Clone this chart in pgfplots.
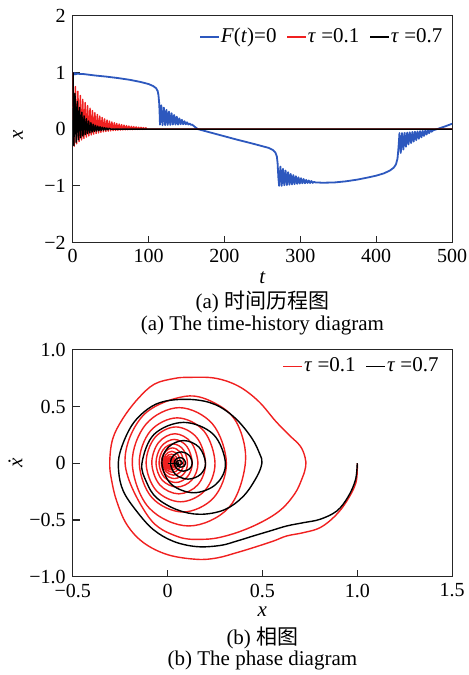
\documentclass[border=0pt]{standalone}
\usepackage{fontspec}
\setmainfont{Liberation Serif}
\newfontfamily\cjk{Noto Sans CJK SC}
\usepackage{pgfplots}
\pgfplotsset{compat=1.18}
\definecolor{cblue}{RGB}{45,88,190}
\definecolor{cred}{RGB}{240,32,32}
\begin{document}
\begin{tikzpicture}
\pgfplotsset{
  every axis/.append style={
    scale only axis, width=189.65pt, height=113.4pt, anchor=south west,
    axis line style={line width=0.6pt, black!85},
    tick align=inside, tick pos=left, major tick length=3.5pt,
    every tick/.style={line width=0.6pt, black!85},
    ticklabel style={font=\fontsize{10}{12}\selectfont},
    legend style={draw=none, fill=none, inner sep=0pt, font=\fontsize{10.5}{12}\selectfont,
      nodes={inner xsep=0.5pt, inner ysep=1pt},
      legend columns=-1, /tikz/every even column/.append style={column sep=4.5pt}},
    legend image code/.code={\draw[#1] (0pt,0pt) -- (9.5pt,0pt);},
    every axis plot/.append style={line join=round},
  }
}
\path[use as bounding box] (-36.35pt,-49.15pt) rectangle (197.65pt,288.25pt);
% ---------------- top: time history ----------------
\begin{axis}[at={(0pt,167pt)}, xmin=0, xmax=500, ymin=-2, ymax=2,
  xtick={0,100,200,300,400,500}, xticklabels={0,100,200,300,400,500},
  ytick={-2,-1,0,1,2}, yticklabels={−2,−1,0,1,2},
  legend style={at={(0.978,0.955)}, anchor=north east}]
\addplot[cblue, line width=0.9pt] coordinates {
(0,1.0)(1,0.96)(2,0.99)(3,0.965)(4,0.985)(5,0.97)(6,0.98)(8,0.975)(15,0.97)(30,0.945)(45,0.925)(60,0.9)(75,0.87)(90,0.83)(100,0.795)(106,0.76)(110,0.72)(112,0.67)(113,0.6)(114,0.45)(114.6,0.25)(115,0.08)
(116.7,0.42)(118.4,0.07)(120.1,0.38)(121.8,0.07)(123.5,0.34)(125.2,0.075)(126.9,0.31)(128.6,0.075)(130.3,0.28)(132,0.08)(133.7,0.25)(135.4,0.08)(137.1,0.22)(138.8,0.08)(140.5,0.19)(142.2,0.085)(143.9,0.165)(145.6,0.085)(147.3,0.14)(149,0.085)(150.7,0.12)(152.4,0.08)(154.1,0.1)(155.8,0.075)(157.5,0.08)(160,0.05)(165,0.0)
(190,-0.09)(215,-0.18)(240,-0.265)(258,-0.33)(264,-0.37)(267,-0.41)(269,-0.48)(270,-0.6)(271,-0.85)(272,-1.0)
(273.7,-0.66)(275.4,-1.0)(277.1,-0.70)(278.8,-0.99)(280.5,-0.73)(282.2,-0.985)(283.9,-0.76)(285.6,-0.98)(287.3,-0.79)(289,-0.975)(290.7,-0.81)(292.4,-0.97)(294.1,-0.83)(295.8,-0.965)(297.5,-0.85)(299.2,-0.96)(300.9,-0.865)(302.6,-0.955)(304.3,-0.88)(306,-0.955)(307.7,-0.895)(309.4,-0.95)(311.1,-0.905)(312.8,-0.95)(314.5,-0.915)(316.2,-0.948)(318,-0.93)(320,-0.94)
(330,-0.945)(345,-0.94)(360,-0.92)(375,-0.89)(390,-0.85)(400,-0.82)(410,-0.78)(418,-0.73)(423,-0.68)(426,-0.62)(428,-0.52)(429,-0.38)(430,-0.2)(430.6,-0.07)
(432.3,-0.42)(434,-0.07)(435.7,-0.36)(437.4,-0.065)(439.1,-0.31)(440.8,-0.06)(442.5,-0.27)(444.2,-0.055)(445.9,-0.245)(447.6,-0.05)(449.3,-0.22)(451,-0.045)(452.7,-0.195)(454.4,-0.04)(456.1,-0.17)(457.8,-0.035)(459.5,-0.145)(461.2,-0.03)(462.9,-0.12)(464.6,-0.025)(466.3,-0.095)(468,-0.02)(469.7,-0.07)(471.4,-0.015)(473.1,-0.045)(475,-0.02)(480,0.0)(490,0.045)(500,0.095)
};
\addlegendentry{\textit{F}(\textit{t})=0}
\addplot[cred, line width=0.7pt] coordinates {
(0,1.0)(2.0,-0.30)(3.6,0.75)(5.2,-0.258)(6.8,0.667)(8.4,-0.221)(10.0,0.593)(11.6,-0.19)(13.2,0.526)(14.8,-0.163)(16.4,0.468)(18.0,-0.14)(19.6,0.415)(21.2,-0.12)(22.8,0.369)(24.4,-0.103)(26.0,0.328)(27.6,-0.089)(29.2,0.291)(30.8,-0.076)(32.4,0.258)(34.0,-0.065)(35.6,0.23)(37.2,-0.056)(38.8,0.204)(40.4,-0.048)(42.0,0.181)(43.6,-0.041)(45.2,0.161)(46.8,-0.036)(48.4,0.143)(50.0,-0.031)(51.6,0.127)(53.2,-0.026)(54.8,0.113)(56.4,-0.022)(58.0,0.1)(59.6,-0.019)(61.2,0.089)(62.8,-0.017)(64.4,0.079)(66.0,-0.014)(67.6,0.07)(69.2,-0.012)(70.8,0.062)(72.4,-0.011)(74.0,0.055)(75.6,-0.009)(77.2,0.049)(78.8,-0.008)(80.4,0.044)(82.0,-0.007)(83.6,0.039)(85.2,-0.006)(86.8,0.034)(88.4,-0.005)(90,0.031)(91.6,-0.004)(93.2,0.027)(94.8,-0.003)(96.4,0.023)(98,0.0)(500,0.0)
};
\addlegendentry{\textit{τ} =0.1}
\addplot[black, line width=0.7pt] coordinates {
(0,1.0)(0.5,0.99)(1.5,-0.288)(3,0.626)(4.5,-0.232)(6,0.489)(7.5,-0.188)(9,0.382)(10.5,-0.152)(12,0.299)(13.5,-0.123)(15,0.234)(16.5,-0.099)(18,0.183)(19.5,-0.080)(21,0.143)(22.5,-0.065)(24,0.112)(25.5,-0.052)(27,0.087)(28.5,-0.042)(30,0.068)(31.5,-0.034)(33,0.053)(34.5,-0.028)(36,0.042)(37.5,-0.022)(39,0.033)(40.5,-0.018)(42,0.026)(43.5,-0.014)(45,0.020)(46.5,-0.011)(48,0.016)(50,0.0)(500,0.0)
};
\addlegendentry{\textit{τ} =0.7}
\end{axis}
% ---------------- bottom: phase diagram ----------------
\begin{axis}[at={(0pt,0pt)}, xmin=-0.5, xmax=1.5, ymin=-1, ymax=1,
  xtick={-0.5,0,0.5,1,1.5}, xticklabels={−0.5,0,0.5,1.0,1.5},
  ytick={-1,-0.5,0,0.5,1}, yticklabels={−1.0,−0.5,0,0.5,1.0},
  legend style={at={(0.968,0.975)}, anchor=north east}]
\addplot[cred, line width=0.7pt, smooth, tension=0.6] coordinates {
(1.0,0.0)(0.993,-0.17)(0.945,-0.333)(0.883,-0.465)(0.804,-0.568)(0.716,-0.612)(0.628,-0.641)(0.558,-0.686)(0.452,-0.744)(0.365,-0.788)(0.26,-0.835)(0.153,-0.847)(0.0,-0.806)(-0.127,-0.70)(-0.215,-0.54)(-0.268,-0.335)(-0.294,-0.159)(-0.305,0.0)(-0.29,0.21)(-0.238,0.388)(-0.158,0.565)(-0.07,0.697)(0.035,0.747)(0.11,0.757)(0.25,0.75)(0.373,0.68)(0.479,0.547)(0.57,0.37)(0.64,0.25)(0.70,0.15)(0.725,0.05)(0.728,-0.03)
(0.71,-0.13)(0.67,-0.27)(0.59,-0.42)(0.47,-0.54)(0.33,-0.63)(0.2,-0.67)(0.05,-0.645)(-0.1,-0.474)(-0.224,0.0)(-0.131,0.417)(0.093,0.59)(0.26,0.52)(0.37,0.34)(0.41,0.0)
(0.323,-0.391)(0.112,-0.553)(-0.099,-0.391)(-0.186,0)(-0.113,0.346)(0.062,0.49)(0.237,0.346)(0.31,0)
(0.243,-0.304)(0.081,-0.43)(-0.082,-0.304)(-0.149,0)(-0.091,0.283)(0.051,0.40)(0.192,0.283)(0.25,0)
(0.197,-0.240)(0.069,-0.34)(-0.060,-0.240)(-0.113,0)(-0.067,0.226)(0.044,0.32)(0.154,0.226)(0.20,0)
(0.159,-0.191)(0.059,-0.27)(-0.041,-0.191)(-0.083,0)(-0.047,0.184)(0.039,0.26)(0.124,0.184)(0.16,0)
(0.128,-0.148)(0.050,-0.21)(-0.029,-0.148)(-0.061,0)(-0.033,0.148)(0.035,0.21)(0.102,0.148)(0.13,0)
(0.104,-0.120)(0.043,-0.17)(-0.019,-0.120)(-0.045,0)(-0.023,0.120)(0.030,0.17)(0.083,0.120)(0.105,0)
(0.085,-0.095)(0.036,-0.135)(-0.013,-0.095)(-0.033,0)(-0.016,0.095)(0.026,0.135)(0.068,0.095)(0.085,0)
(0.069,-0.074)(0.031,-0.105)(-0.008,-0.074)(-0.024,0)(-0.011,0.074)(0.022,0.105)(0.055,0.074)(0.068,0)
(0.056,-0.057)(0.026,-0.08)(-0.004,-0.057)(-0.016,0)(-0.006,0.057)(0.020,0.08)(0.045,0.057)(0.055,0)
(0.046,-0.042)(0.023,-0.06)(0.0,-0.042)(-0.01,0)(-0.002,0.042)(0.018,0.06)(0.037,0.042)(0.045,0)
(0.038,-0.032)(0.021,-0.045)(0.004,-0.032)(-0.004,0)(0.002,0.032)(0.017,0.045)(0.032,0.032)(0.038,0)
(0.032,-0.023)(0.019,-0.033)(0.006,-0.023)(0.0,0)(0.005,0.023)(0.016,0.033)(0.027,0.023)(0.032,0)
(0.025,-0.016)(0.016,-0.022)(0.008,-0.016)(0.004,0)(0.008,0.015)(0.016,0.02)(0.024,0.014)(0.028,0)(0.018,0)
};
\addlegendentry{\textit{τ} =0.1}
\addplot[black, line width=0.7pt, smooth, tension=0.6] coordinates {
(1.0,0.0)(0.99,-0.15)(0.95,-0.30)(0.892,-0.421)(0.804,-0.494)(0.716,-0.524)(0.628,-0.553)(0.540,-0.597)(0.452,-0.641)(0.365,-0.686)(0.277,-0.725)(0.153,-0.735)(0.03,-0.688)(-0.075,-0.585)(-0.163,-0.423)(-0.233,-0.247)(-0.258,-0.07)(-0.25,0.1)(-0.19,0.33)(-0.106,0.476)(-0.013,0.547)(0.127,0.562)(0.25,0.518)(0.355,0.40)(0.443,0.224)(0.487,0.077)(0.497,0)
(0.47,-0.12)(0.40,-0.29)(0.30,-0.41)(0.17,-0.45)(0.05,-0.41)(-0.057,-0.306)(-0.11,-0.17)(-0.135,0)(-0.071,0.255)(0.085,0.36)(0.241,0.255)(0.305,0)
(0.256,-0.184)(0.138,-0.26)(0.019,-0.184)(-0.03,0)(0.004,0.141)(0.085,0.20)(0.166,0.141)(0.20,0)
(0.173,-0.099)(0.108,-0.14)(0.042,-0.099)(0.015,0)(0.032,0.071)(0.073,0.10)(0.113,0.071)(0.13,0)
(0.116,-0.049)(0.083,-0.07)(0.049,-0.049)(0.035,0)(0.044,0.035)(0.065,0.05)(0.086,0.035)(0.095,0)
(0.088,-0.025)(0.07,-0.035)(0.052,-0.025)(0.045,0)(0.05,0.018)(0.062,0.025)(0.073,0.018)(0.078,0)
(0.07,-0.012)(0.062,-0.016)(0.054,-0.01)(0.055,0)(0.06,0.005)
};
\addlegendentry{\textit{τ} =0.7}
\addplot[black, line width=0.7pt, forget plot] coordinates {(0.0,0.0)(0.058,0.0)};
\end{axis}
% ---------------- labels and captions ----------------
\begin{scope}[every node/.style={font=\fontsize{10.5}{12}\selectfont, inner sep=0pt}]
\node at (94.8pt,149.35pt) {\textit{t}};
\node at (94.8pt,137.5pt) {(a) {\cjk 时间历程图}};
\node at (94.8pt,125.35pt) {(a) The time-history diagram};
\node[rotate=90] at (-27.35pt,220.75pt) {\textit{x}};
\node[rotate=90] at (-28.6pt,56.75pt) {\textit{\.x}};
\node at (94.8pt,-17.65pt) {\textit{x}};
\node at (94.8pt,-30.4pt) {(b) {\cjk 相图}};
\node at (94.8pt,-41.65pt) {(b) The phase diagram};
\end{scope}
\end{tikzpicture}
\end{document}
